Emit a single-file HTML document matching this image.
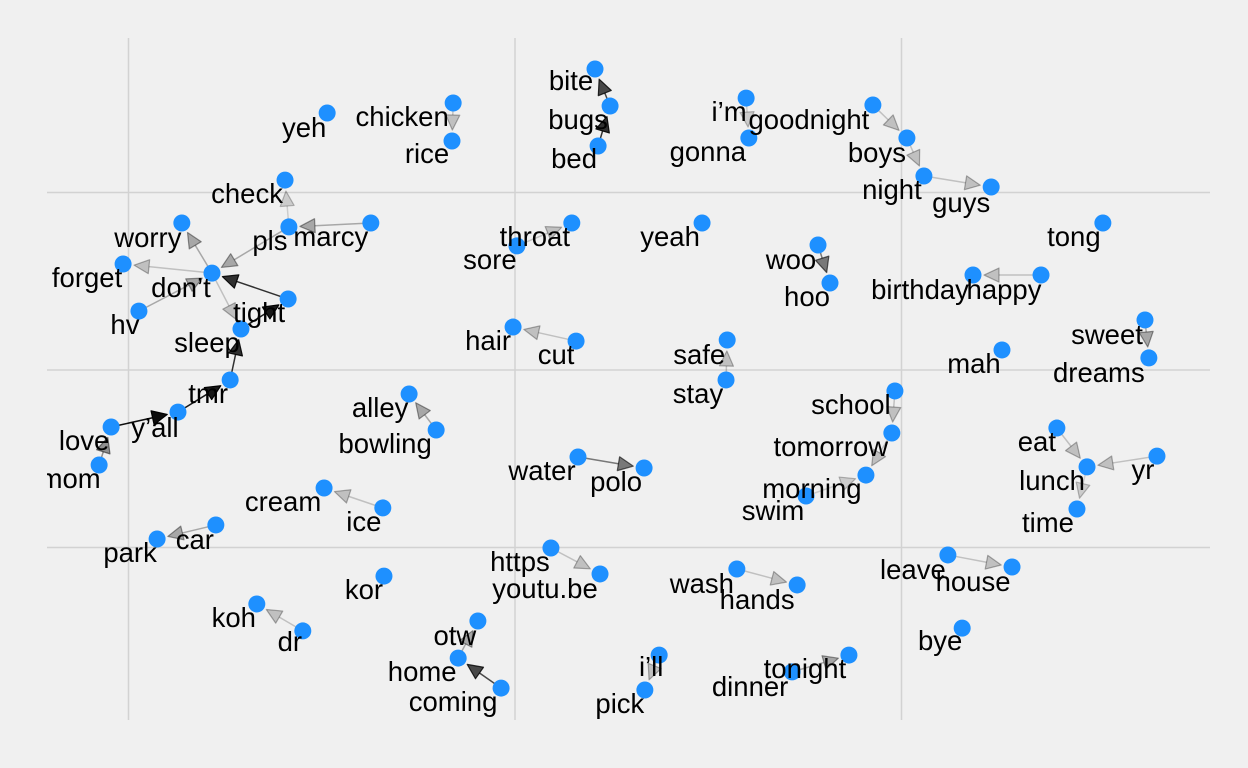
<!DOCTYPE html>
<html><head><meta charset="utf-8">
<style>
html,body{margin:0;padding:0;background:#f0f0f0;}
svg{display:block;}
text{font-family:"Liberation Sans",Arial,sans-serif;font-size:27.5px;fill:#000;}
</style></head>
<body>
<svg id="chart" width="1248" height="768" viewBox="0 0 1248 768" xmlns="http://www.w3.org/2000/svg">
<defs><clipPath id="plotclip"><rect x="47" y="0" width="1201" height="768"/></clipPath></defs>
<rect width="1248" height="768" fill="#f0f0f0"/>
<g clip-path="url(#plotclip)">
<g id="grid"></g>
<g id="edges"></g>
<g id="nodes"></g>
<g id="labels"></g>
</g>
</svg>
<script>
const words = ["bite","bugs","bed","chicken","rice","yeh","i’m","gonna","goodnight","boys","night","guys","check","pls","marcy","worry","forget","don’t","hv","tight","sleep","tmr","y’all","love","mom","throat","sore","yeah","woo","hoo","tong","happy","birthday","sweet","dreams","mah","hair","cut","safe","stay","alley","bowling","school","tomorrow","morning","swim","eat","lunch","yr","time","water","polo","cream","ice","park","car","https","youtu.be","kor","wash","hands","leave","house","koh","dr","otw","home","coming","i’ll","pick","bye","dinner","tonight"];
const layoutX = [2.07,2.46,2.15,-1.60,-1.63,-4.86,5.98,6.05,9.26,10.14,10.58,12.32,-5.95,-5.85,-3.73,-8.62,-10.14,-7.84,-9.73,-5.87,-7.09,-7.37,-8.72,-10.45,-10.76,1.47,0.05,4.84,7.84,8.15,15.21,13.61,11.85,16.30,16.40,12.60,-0.05,1.58,5.49,5.46,-2.74,-2.04,9.83,9.75,9.08,7.53,14.02,14.80,16.61,14.54,1.63,3.34,-4.94,-3.42,-9.26,-7.74,0.93,2.20,-3.39,5.74,7.30,11.20,12.86,-6.68,-5.49,-0.96,-1.47,-0.36,3.73,3.36,11.57,7.17,8.64];
const layoutY = [16.96,14.87,12.62,15.04,12.90,14.48,15.32,13.07,14.93,13.07,10.93,10.31,10.70,8.06,8.28,8.28,5.97,5.46,3.32,4.00,2.31,-0.56,-2.37,-3.21,-5.35,8.28,6.99,8.28,7.04,4.90,8.28,5.35,5.35,2.82,0.68,1.13,2.42,1.63,1.69,-0.56,-1.35,-3.38,-1.18,-3.55,-5.92,-7.10,-3.27,-5.46,-4.85,-7.83,-4.90,-5.52,-6.65,-7.77,-9.52,-8.73,-10.03,-11.49,-11.61,-11.21,-12.11,-10.42,-11.10,-13.18,-14.70,-14.14,-16.23,-17.92,-16.06,-18.03,-14.54,-17.01,-16.06];
const edgeFrom = ["bugs","bed","chicken","i’m","goodnight","boys","night","marcy","pls","pls","don’t","don’t","hv","tight","sleep","tmr","y’all","love","mom","don’t","sore","woo","happy","sweet","cut","stay","bowling","school","tomorrow","swim","eat","yr","lunch","water","ice","car","https","wash","leave","dr","home","coming","i’ll","dinner"];
const edgeTo = ["bite","bugs","rice","gonna","boys","night","guys","pls","check","don’t","worry","forget","don’t","don’t","tight","sleep","tmr","y’all","love","sleep","throat","hoo","birthday","dreams","hair","safe","alley","tomorrow","morning","morning","lunch","lunch","time","polo","cream","park","youtu.be","hands","house","koh","otw","home","pick","tonight"];
const edgeWeight = [0.7,0.8,0.2,0.15,0.2,0.2,0.2,0.3,0.15,0.3,0.3,0.2,0.3,0.8,0.9,0.8,0.9,0.95,0.4,0.2,0.2,0.5,0.2,0.3,0.2,0.2,0.3,0.2,0.2,0.15,0.2,0.2,0.15,0.5,0.2,0.3,0.2,0.2,0.2,0.2,0.3,0.7,0.2,0.3];
const gridX = [-10,0,10];
const gridY = [10,0,-10];

const labelOffset = {"bite":[-24,12],"bugs":[-32,14],"bed":[-24,13],"chicken":[-51,14],"rice":[-25,13],"yeh":[-23,15],"i’m":[-17,14],"gonna":[-41,14],"goodnight":[-64,15],"boys":[-30,15],"night":[-32,14],"guys":[-30,16],"check":[-38,14],"pls":[-19,14],"marcy":[-40,14],"worry":[-34,15],"forget":[-36,14],"don’t":[-31,15],"hv":[-14,14],"tight":[-29,14],"sleep":[-34,14],"tmr":[-22,14],"y’all":[-23,16],"love":[-27,14],"mom":[-29,14],"throat":[-37,14],"sore":[-27,14],"yeah":[-32,14],"woo":[-27,15],"hoo":[-23,14],"tong":[-29,14],"happy":[-37,15],"birthday":[-53,15],"sweet":[-38,15],"dreams":[-50,15],"mah":[-28,14],"hair":[-25,14],"cut":[-20,14],"safe":[-28,15],"stay":[-28,14],"alley":[-29,14],"bowling":[-51,14],"school":[-44,14],"tomorrow":[-61,14],"morning":[-54,14],"swim":[-33,15],"eat":[-20,14],"lunch":[-35,14],"yr":[-14,14],"time":[-29,14],"water":[-36,14],"polo":[-28,14],"cream":[-41,14],"ice":[-19,14],"park":[-27,14],"car":[-21,15],"https":[-31,14],"youtu.be":[-55,15],"kor":[-20,14],"wash":[-35,15],"hands":[-40,15],"leave":[-35,15],"house":[-39,15],"koh":[-23,14],"dr":[-13,11],"otw":[-23,15],"home":[-36,14],"coming":[-48,14],"i’ll":[-8,12],"pick":[-25,14],"bye":[-22,13],"dinner":[-42,15],"tonight":[-44,14]};

const X = v => 515 + v*38.65;
const Y = v => 370 - v*17.75;
const NS = "http://www.w3.org/2000/svg";
function mk(tag, parent){const e=document.createElementNS(NS,tag);parent.appendChild(e);return e;}

const grid=document.getElementById('grid');
gridX.forEach(g=>{const l=mk('line',grid);


l.setAttribute('x1',X(g));l.setAttribute('x2',X(g));l.setAttribute('y1',38);l.setAttribute('y2',720);l.setAttribute('stroke','#d2d2d2');l.setAttribute('stroke-width','1.5');});
gridY.forEach(g=>{const l=mk('line',grid);


l.setAttribute('x1',47);l.setAttribute('x2',1210);l.setAttribute('y1',Y(g));l.setAttribute('y2',Y(g));l.setAttribute('stroke','#d2d2d2');l.setAttribute('stroke-width','1.5');});

const pos={};
words.forEach((w,i)=>{pos[w]=[X(layoutX[i]),Y(layoutY[i])];});

const eg=document.getElementById('edges');
edgeFrom.forEach((f,i)=>{
  const a=pos[f], b=pos[edgeTo[i]]; if(!a||!b) return;
  const dx=b[0]-a[0], dy=b[1]-a[1], L=Math.hypot(dx,dy), ux=dx/L, uy=dy/L;
  const tip=[b[0]-ux*11,b[1]-uy*11];
  const base=[tip[0]-ux*15,tip[1]-uy*15];
  const px=-uy*7, py=ux*7;
  const al=edgeWeight[i];
  const g=mk('g',eg);
  
  
  const l=mk('line',g);
  l.setAttribute('x1',a[0]+ux*8);l.setAttribute('y1',a[1]+uy*8);l.setAttribute('x2',base[0]);l.setAttribute('y2',base[1]);
  l.setAttribute('stroke','#000');l.setAttribute('stroke-opacity',al);l.setAttribute('stroke-width','1.5');
  const p=mk('polygon',g);
  p.setAttribute('points',`${tip[0]},${tip[1]} ${base[0]+px},${base[1]+py} ${base[0]-px},${base[1]-py}`);
  p.setAttribute('fill','#000');p.setAttribute('fill-opacity',al);p.setAttribute('stroke','#000');p.setAttribute('stroke-opacity',Math.min(1,al+0.1));p.setAttribute('stroke-width','1.2');p.setAttribute('stroke-linejoin','round');
});

const ng=document.getElementById('nodes'), lg=document.getElementById('labels');
words.forEach(w=>{
  const c=mk('circle',ng);
  
  
  c.setAttribute('cx',pos[w][0]);c.setAttribute('cy',pos[w][1]);c.setAttribute('r',8.5);c.setAttribute('fill','#1e90ff');
  const o=labelOffset[w]||[-25,14];
  const t=mk('text',lg);
  
  
  t.setAttribute('x',pos[w][0]+o[0]);t.setAttribute('y',pos[w][1]+o[1]+9);t.setAttribute('text-anchor','middle');
  t.textContent=w;
});
</script>
</body></html>
